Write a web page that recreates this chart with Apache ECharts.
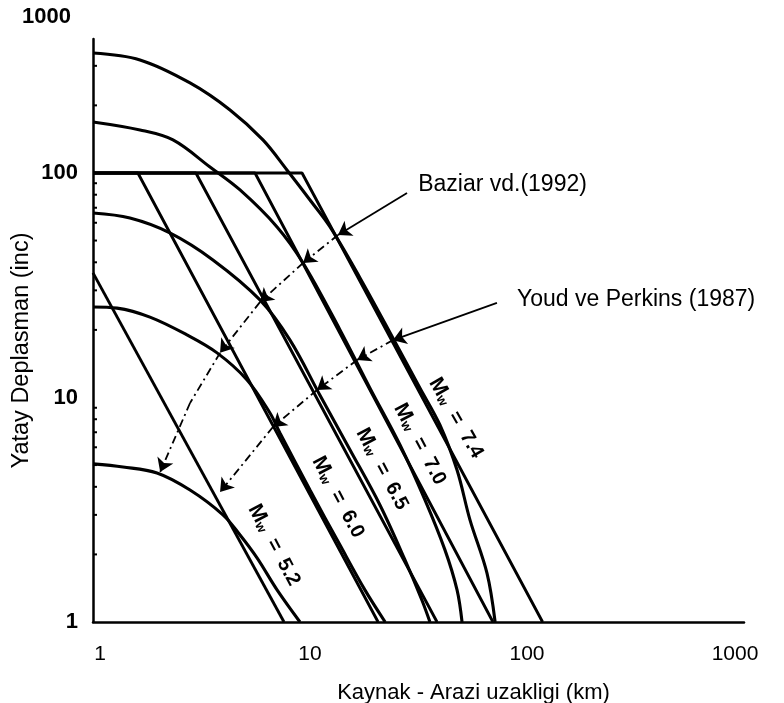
<!DOCTYPE html>
<html>
<head>
<meta charset="utf-8">
<script src="https://cdn.jsdelivr.net/npm/echarts@6/dist/echarts.min.js"></script>
<style>
  html, body { margin: 0; padding: 0; background: #fff; }
  #chart { width: 784px; height: 703px; }
</style>
</head>
<body>
<div id="chart"></div>
<script>
// Tick labels
const xTickLabels = ['1', '10', '100', '1000'];
const yTickLabels = ['1', '10', '100', '1000'];
// Small marks along the vertical axis (inc)
const yMinorTicks = [2, 3, 4, 5, 6, 7, 8, 9, 20, 30, 40, 50, 60, 70, 80, 90, 200, 300];

// Youd ve Perkins (1987): capped at 100 inc, straight on log-log axes [km, inc]
const youd74 = [[1, 100], [9.19, 100], [118, 1]];
const youd70 = [[1, 100], [5.58, 100], [69.7, 1]];
const youd65 = [[1, 100], [2.98, 100], [38.5, 1]];
const youd60 = [[1, 100], [1.61, 100], [20.6, 1]];
const youd52 = [[1, 35.9], [7.59, 1]];

// Baziar vd. (1992) curves [km, inc]
const baziar74 = [[1, 342], [1.647, 318.7], [2.80, 251.7], [4.28, 190.8], [6.07, 140.3], [7.83, 103.1],
  [10, 75.8], [12.37, 57.5], [17.0, 34.06], [24.1, 18.41], [32.1, 11.02], [39.7, 7.54], [47.6, 4.75],
  [54.6, 2.85], [65.4, 1.65], [71.3, 1]];
const baziar70 = [[1, 168.7], [1.647, 155.4], [2.337, 140.3], [3.46, 106.3], [4.76, 84.0], [7.05, 57.5],
  [9.29, 39.7], [13.75, 20.0], [18.9, 11.0], [26.0, 6.14], [33.9, 3.49], [41.9, 2.09], [47.6, 1.39], [50.2, 1]];
const baziar65 = [[1, 66.3], [1.48, 63.0], [2.26, 54.1], [3.57, 41.0], [5.88, 27.2], [8.09, 18.0],
  [11.1, 10.26], [15.3, 5.84], [21.0, 3.32], [27.4, 1.89], [32.8, 1.25], [35.7, 1]];
const baziar60 = [[1, 25.3], [1.29, 25.0], [1.83, 22.8], [2.71, 19.0], [3.73, 15.8], [5.13, 11.97],
  [6.54, 8.53], [7.27, 6.95], [10, 3.87], [13.75, 2.20], [17.9, 1.39], [22.2, 1]];
const baziar52 = [[1, 5.06], [1.375, 4.90], [1.972, 4.61], [2.80, 3.87], [3.97, 3.00], [4.76, 2.44],
  [5.70, 1.93], [7.05, 1.39], [8.99, 1]];

// Magnitude labels placed along the lines [km, inc]
const magNames = ['7.4', '7.0', '6.5', '6.0', '5.2'];
const magPos = [[47.1, 8.1], [32.1, 6.2], [21.5, 4.8], [13.46, 3.6], [6.83, 2.2]];
const magAngles = [-60, -62, -62, -62, -62];

// Leader arcs with arrowheads [km, inc]
const baziarArc = [[28.0, 81.5], [13.46, 52.9], [9.29, 39.7], [5.88, 26.6], [3.85, 15.8], [2.80, 9.45], [2.04, 4.66]];
const baziarHeads = [true, true, true, true, true, false, true];
const youdArc = [[72.7, 26.4], [24.1, 18.0], [16.5, 14.7], [10.77, 10.8], [6.75, 7.39], [3.85, 3.79]];

// Source captions [km, inc]
const captionNames = ['Baziar vd.(1992)', 'Youd ve Perkins (1987)'];
const captionPos = [[31.5, 88.4], [89.9, 27.2]];

// Top of the vertical axis (inc)
const yTop = 395;

const FONT = "'Liberation Sans', Arial, sans-serif";
const BLACK = '#000';

function curve(data) {
  return {
    type: 'line', data: data, showSymbol: false, smooth: 0.35, z: 3,
    lineStyle: { color: BLACK, width: 3.1 }, silent: true
  };
}
function straight(data) {
  return {
    type: 'line', data: data, showSymbol: false, z: 3,
    lineStyle: { color: BLACK, width: 2.9 }, silent: true
  };
}
function arcSegments(pts, heads) {
  const segs = [];
  for (let i = 0; i < pts.length - 1; i++) {
    const withHead = heads ? heads[i + 1] : true;
    segs.push({
      coords: [pts[i], pts[i + 1]],
      symbol: ['none', withHead ? 'arrow' : 'none'],
      lineStyle: { type: i === 0 ? 'solid' : [8, 4, 2, 4] }
    });
  }
  return segs;
}

const chart = echarts.init(document.getElementById('chart'), null, { renderer: 'canvas' });

chart.setOption({
  animation: false,
  backgroundColor: '#fff',
  grid: { left: 93, right: 40, top: 39, bottom: 81, containLabel: false, outerBoundsMode: 'none' },
  xAxis: {
    type: 'log', logBase: 10, min: 1, max: 1000,
    axisLine: { lineStyle: { color: BLACK, width: 2.5 } },
    axisTick: { show: false },
    splitLine: { show: false },
    axisLabel: {
      color: BLACK, fontSize: 21, fontFamily: FONT, margin: 22,
      formatter: v => {
        const k = Math.round(Math.log10(v));
        if (k === 0) return '{first|' + xTickLabels[k] + '}';
        if (k === 3) return '{last|' + xTickLabels[k] + '}';
        return xTickLabels[k];
      },
      rich: {
        first: { fontSize: 21, fontFamily: FONT, color: BLACK, padding: [0, 0, 0, 14] },
        last: { fontSize: 21, fontFamily: FONT, color: BLACK, padding: [0, 18, 0, 0] }
      }
    },
    name: 'Kaynak - Arazi uzakligi (km)', nameLocation: 'middle', nameGap: 60,
    nameMoveOverlap: false,
    nameTextStyle: { color: BLACK, fontSize: 22, fontFamily: FONT, padding: [0, 0, 0, 110] }
  },
  yAxis: {
    type: 'log', logBase: 10, min: 1, max: yTop,
    axisLine: { lineStyle: { color: BLACK, width: 2.5 } },
    axisTick: { show: false },
    splitLine: { show: false },
    axisLabel: {
      color: BLACK, fontSize: 22, fontWeight: 'bold', fontFamily: FONT, margin: 15,
      showMaxLabel: true,
      formatter: v => {
        const k = Math.log10(v);
        if (Math.abs(k - Math.round(k)) < 1e-6) return yTickLabels[Math.round(k)];
        return '{top|' + yTickLabels[3] + '}';
      },
      rich: { top: { fontSize: 22, fontWeight: 'bold', fontFamily: FONT, color: BLACK, padding: [0, 7, 44, 0] } }
    },
    name: 'Yatay Deplasman (inc)', nameLocation: 'middle', nameGap: 59,
    nameMoveOverlap: false,
    nameTextStyle: { color: BLACK, fontSize: 23.5, fontFamily: FONT, padding: [0, 40, 0, 0] }
  },
  series: [
    straight(youd74), straight(youd70), straight(youd65), straight(youd60), straight(youd52),
    curve(baziar74), curve(baziar70), curve(baziar65), curve(baziar60), curve(baziar52),
    {
      type: 'lines', coordinateSystem: 'cartesian2d', polyline: false, silent: true, z: 4,
      symbolSize: 13,
      lineStyle: { color: BLACK, width: 1.8, opacity: 1 },
      data: arcSegments(baziarArc, baziarHeads).concat(arcSegments(youdArc))
    },
    {
      type: 'scatter', silent: true, z: 4,
      symbol: 'rect', symbolSize: [4, 2], symbolOffset: [2, 0],
      itemStyle: { color: BLACK, opacity: 1 },
      data: yMinorTicks.map(v => [1, v])
    },
    {
      type: 'scatter', symbolSize: 0, silent: true, z: 5,
      itemStyle: { opacity: 1 },
      data: magPos.map((p, i) => ({ name: magNames[i], value: p, label: { rotate: magAngles[i] } })),
      label: {
        show: true, position: 'inside', color: BLACK, opacity: 1,
        fontFamily: FONT, fontWeight: 'bold', fontSize: 21,
        formatter: p => '{m|M}{w|w}{t|  =  ' + p.name + '}',
        rich: {
          m: { fontSize: 21, fontWeight: 'bold', fontFamily: FONT, color: BLACK },
          w: { fontSize: 13, fontWeight: 'bold', fontFamily: FONT, color: BLACK, verticalAlign: 'bottom' },
          t: { fontSize: 20, fontWeight: 'bold', fontFamily: FONT, color: BLACK }
        }
      }
    },
    {
      type: 'scatter', symbolSize: 0, silent: true, z: 5,
      itemStyle: { opacity: 1 },
      data: captionPos.map((p, i) => ({ name: captionNames[i], value: p })),
      label: {
        show: true, position: 'right', distance: 0, color: BLACK, opacity: 1,
        fontFamily: FONT, fontSize: 23, formatter: p => p.name
      }
    }
  ]
});
</script>
</body>
</html>
